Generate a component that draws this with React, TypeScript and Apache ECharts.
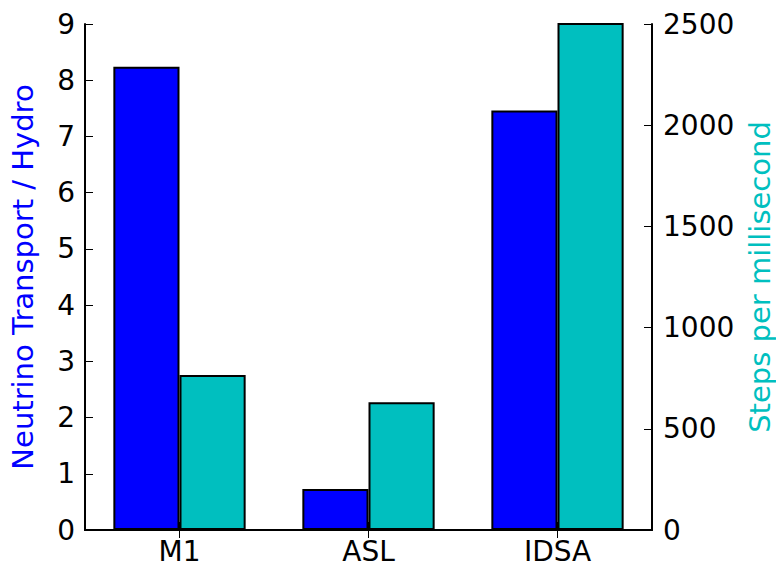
import React, { useEffect, useRef } from "react";
import * as echarts from "echarts";

const categories = ["M1", "ASL", "IDSA"];
const ratioValues = [8.24, 0.73, 7.46];
const stepsValues = [766, 631, 2700];
const leftName = "Neutrino Transport / Hydro";
const rightName = "Steps per millisecond";

const FONT = "DejaVu Sans";

export default function App() {
  const ref = useRef<HTMLDivElement>(null);
  useEffect(() => {
    if (!ref.current) return;
    const chart = echarts.init(ref.current, null, { renderer: "svg" });
    const lineStyle = { color: "#000", width: 2 };
    chart.setOption({
      animation: false,
      backgroundColor: "#fff",
      grid: { left: 85, right: 124, top: 24, bottom: 39, outerBoundsMode: "none", containLabel: false },
      xAxis: [
        {
          type: "category",
          data: categories,
          position: "bottom",
          axisLine: { show: true, lineStyle },
          axisTick: { show: true, inside: true, alignWithLabel: true, length: 8, lineStyle: { color: "#000", width: 1 } },
          axisLabel: { color: "#000", fontSize: 28, fontFamily: FONT, margin: 7 },
          splitLine: { show: false },
        },
        {
          type: "category",
          data: categories,
          position: "top",
          axisLine: { show: true, lineStyle },
          axisTick: { show: true, inside: true, alignWithLabel: true, length: 8, lineStyle: { color: "#000", width: 1 } },
          axisLabel: { show: false },
          splitLine: { show: false },
        },
      ],
      yAxis: [
        {
          type: "value",
          min: 0,
          max: 9,
          interval: 1,
          position: "left",
          name: leftName,
          nameLocation: "middle",
          nameGap: 48,
          nameTextStyle: { color: "#0000ff", fontSize: 29, fontFamily: FONT },
          axisLine: { show: true, lineStyle },
          axisTick: { show: true, inside: true, length: 8, lineStyle: { color: "#000", width: 1 } },
          axisLabel: { color: "#000", fontSize: 28, fontFamily: FONT, margin: 10 },
          splitLine: { show: false },
        },
        {
          type: "value",
          min: 0,
          max: 2500,
          interval: 500,
          position: "right",
          name: rightName,
          nameLocation: "middle",
          nameGap: 92,
          nameTextStyle: { color: "#00bfbf", fontSize: 29, fontFamily: FONT },
          axisLine: { show: true, lineStyle },
          axisTick: { show: true, inside: true, length: 8, lineStyle: { color: "#000", width: 1 } },
          axisLabel: { color: "#000", fontSize: 28, fontFamily: FONT, margin: 11, formatter: (v: number) => String(v) },
          splitLine: { show: false },
        },
      ],
      series: [
        {
          type: "bar",
          data: ratioValues,
          xAxisIndex: 0,
          yAxisIndex: 0,
          barGap: "0%",
          barCategoryGap: "30%",
          clip: true,
          itemStyle: { color: "#0000ff", borderColor: "#000", borderWidth: 2 },
        },
        {
          type: "bar",
          data: stepsValues,
          xAxisIndex: 0,
          yAxisIndex: 1,
          barGap: "0%",
          barCategoryGap: "30%",
          clip: true,
          itemStyle: { color: "#00bfbf", borderColor: "#000", borderWidth: 2 },
        },
      ],
    });
    return () => chart.dispose();
  }, []);
  return (
    <div
      ref={ref}
      style={{ position: "fixed", left: 0, top: 0, width: 776, height: 569, background: "#fff" }}
    />
  );
}
